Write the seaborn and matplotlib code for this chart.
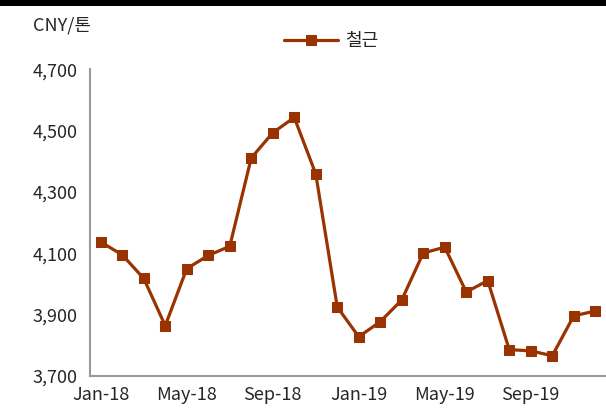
import numpy as np
import pandas as pd
import matplotlib
matplotlib.use('Agg')
import matplotlib.pyplot as plt
import seaborn as sns
from matplotlib.patches import Rectangle

# --- data ---
MONTHS = ['Jan-18', 'Feb-18', 'Mar-18', 'Apr-18', 'May-18', 'Jun-18',
          'Jul-18', 'Aug-18', 'Sep-18', 'Oct-18', 'Nov-18', 'Dec-18',
          'Jan-19', 'Feb-19', 'Mar-19', 'Apr-19', 'May-19', 'Jun-19',
          'Jul-19', 'Aug-19', 'Sep-19', 'Oct-19', 'Nov-19', 'Dec-19']
REBAR = [4137, 4095, 4018, 3864, 4050, 4093,
         4123, 4411, 4493, 4543, 4359, 3925,
         3828, 3877, 3948, 4101, 4120, 3974,
         4011, 3786, 3782, 3766, 3896, 3912]
Y_TICKS = [3700, 3900, 4100, 4300, 4500, 4700]
SERIES_NAME = '철근'
UNIT_LABEL = 'CNY/톤'

LINE_COLOR = '#993300'
AXIS_COLOR = '#999999'
TEXT_COLOR = '#262626'

sns.set_style('white')
plt.rcParams['font.family'] = ['Noto Sans CJK KR', 'DejaVu Sans']

df = pd.DataFrame({'idx': np.arange(len(MONTHS)), 'month': MONTHS, 'price': REBAR})

fig = plt.figure(figsize=(6.06, 4.09), dpi=100)
ax = fig.add_axes([90 / 606, 1 - 376 / 409, 516 / 606, (376 - 69.3) / 409])

sns.lineplot(data=df, x='idx', y='price', ax=ax, color=LINE_COLOR,
             linewidth=2.3, marker='s', markersize=6.6, markeredgecolor=LINE_COLOR,
             label=SERIES_NAME)

# axes
ax.set_xlim(-0.5, len(MONTHS) - 0.5)
ax.set_ylim(Y_TICKS[0], Y_TICKS[-1])
ax.set_yticks(Y_TICKS)
ax.set_yticklabels([f'{v:,}' for v in Y_TICKS], fontsize=13, color=TEXT_COLOR)
label_pos = list(range(0, len(MONTHS), 4))
ax.set_xticks(label_pos)
ax.set_xticklabels([MONTHS[i] for i in label_pos], fontsize=13, color=TEXT_COLOR)
ax.set_xticks([i - 0.5 for i in label_pos], minor=True)
ax.tick_params(axis='x', which='major', length=0, pad=7)
ax.tick_params(axis='x', which='minor', length=4, width=1.3, color=AXIS_COLOR, direction='out')
ax.tick_params(axis='y', length=4, width=1.3, color=AXIS_COLOR, direction='out', pad=5)
ax.set_xlabel('')
ax.set_ylabel('')
for side in ['top', 'right']:
    ax.spines[side].set_visible(False)
for side in ['left', 'bottom']:
    ax.spines[side].set_color(AXIS_COLOR)
    ax.spines[side].set_linewidth(1.5)

# legend at top centre
leg = ax.legend(loc='center', bbox_to_anchor=(331 / 606, 1 - 41 / 409), bbox_transform=fig.transFigure,
                frameon=False, fontsize=13, handlelength=3.0, handletextpad=0.4)
for t in leg.get_texts():
    t.set_color(TEXT_COLOR)

# unit label
fig.text(33 / 606, 1 - 26 / 409, UNIT_LABEL, fontsize=13, color=TEXT_COLOR, va='center', ha='left')

# black bar along the top
fig.add_artist(Rectangle((0, 1 - 6 / 409), 1, 6 / 409, transform=fig.transFigure,
                         facecolor='black', edgecolor='none'))

fig.savefig('out.png', dpi=100)
